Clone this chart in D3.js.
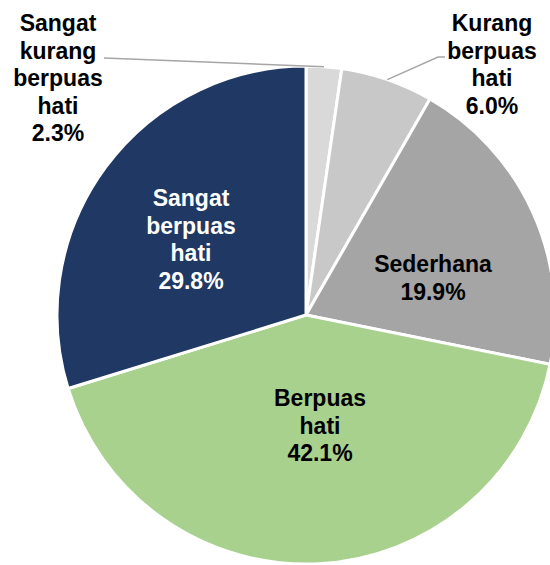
<!DOCTYPE html>
<html>
<head>
<meta charset="utf-8">
<script src="https://cdn.jsdelivr.net/npm/d3@7"></script>
<style>
  body { margin: 0; background: #fff; }
  svg { display: block; }
  .lbl { font-family: "Liberation Sans", Arial, sans-serif; font-weight: bold; font-size: 23px; text-anchor: middle; }
</style>
</head>
<body>
<svg id="chart"></svg>
<script>
// chart data
var categories = ["Sangat kurang berpuas hati", "Kurang berpuas hati", "Sederhana", "Berpuas hati", "Sangat berpuas hati"];
var values = [2.3, 6.0, 19.9, 42.1, 29.8];
var labelLines = [
  ["Sangat", "kurang", "berpuas", "hati", "2.3%"],
  ["Kurang", "berpuas", "hati", "6.0%"],
  ["Sederhana", "19.9%"],
  ["Berpuas", "hati", "42.1%"],
  ["Sangat", "berpuas", "hati", "29.8%"]
];

var width = 550, height = 565;
var cx = 306, cy = 315, radius = 249;
var lineH = 27.5;

var colors = ["#d9d9d9", "#c8c8c8", "#a5a5a5", "#a9d18e", "#203864"];
var textColors = ["#000", "#000", "#000", "#000", "#fff"];

// where each label block sits, relative to centre (first line baseline)
var labelPos = [
  { x: -248, y: -284, outside: true, line: [[104, 58]] },
  { x: 186, y: -284, outside: true, line: [[438, 57], [445, 57]] },
  { x: 127, y: -43 },
  { x: 14, y: 91 },
  { x: -115, y: -109 }
];

var svg = d3.select("#chart")
  .attr("width", width)
  .attr("height", height);

var g = svg.append("g")
  .attr("transform", "translate(" + cx + "," + cy + ")");

var pie = d3.pie().sort(null).value(function(d) { return d; });
var arc = d3.arc().innerRadius(0).outerRadius(radius);
var arcs = pie(values);

g.selectAll("path.slice")
  .data(arcs)
  .enter().append("path")
  .attr("class", "slice")
  .attr("d", arc)
  .attr("fill", function(d, i) { return colors[i]; })
  .attr("stroke", "#fff")
  .attr("stroke-width", 3)
  .attr("stroke-linejoin", "miter");

// leader lines for the small slices
arcs.forEach(function(d, i) {
  var p = labelPos[i];
  if (!p.outside) return;
  var mid = (d.startAngle + d.endAngle) / 2;
  var pts = [[cx + radius * Math.sin(mid), cy - radius * Math.cos(mid)]].concat(p.line);
  svg.append("path")
    .attr("d", d3.line()(pts))
    .attr("fill", "none")
    .attr("stroke", "#a6a6a6")
    .attr("stroke-width", 1.5);
});

// labels
arcs.forEach(function(d, i) {
  var p = labelPos[i];
  var t = g.append("text")
    .attr("class", "lbl")
    .attr("fill", textColors[i])
    .attr("x", p.x)
    .attr("y", p.y);
  labelLines[i].forEach(function(s, j) {
    t.append("tspan")
      .attr("x", p.x)
      .attr("y", p.y + j * lineH)
      .text(s);
  });
});
</script>
</body>
</html>
